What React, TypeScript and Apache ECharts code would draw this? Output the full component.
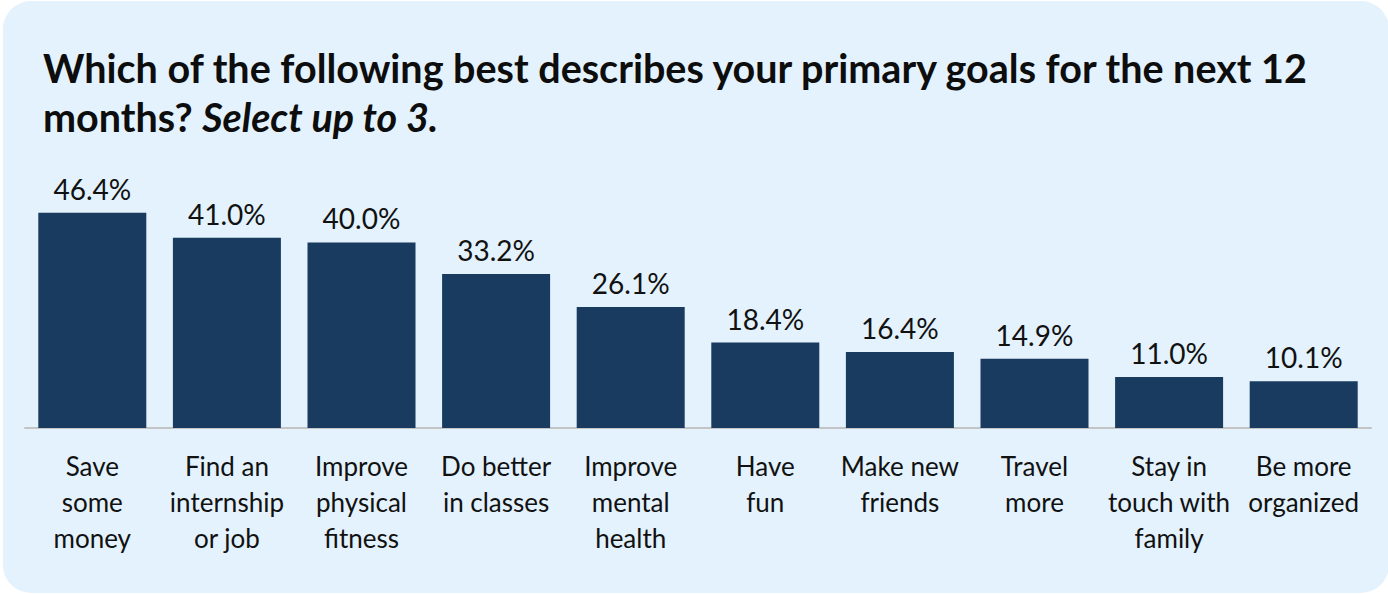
import React, { useEffect, useRef } from "react";
import * as echarts from "echarts";

const categories = [
  "Save\nsome\nmoney",
  "Find an\ninternship\nor job",
  "Improve\nphysical\nfitness",
  "Do better\nin classes",
  "Improve\nmental\nhealth",
  "Have\nfun",
  "Make new\nfriends",
  "Travel\nmore",
  "Stay in\ntouch with\nfamily",
  "Be more\norganized",
];
const values = [46.4, 41.0, 40.0, 33.2, 26.1, 18.4, 16.4, 14.9, 11.0, 10.1];
const titleLine1 = "Which of the following best describes your primary goals for the next 12";
const titleLine2a = "months? ";
const titleLine2b = "Select up to 3.";

const FONT = "Lato, 'Noto Sans', sans-serif";

export default function App() {
  const ref = useRef<HTMLDivElement>(null);
  useEffect(() => {
    if (!ref.current) return;
    const chart = echarts.init(ref.current, undefined, { renderer: "svg" });
    chart.setOption({
      animation: false,
      backgroundColor: "#ffffff",
      graphic: [
        {
          type: "rect",
          z: -10,
          silent: true,
          shape: { x: 3, y: 1, width: 1386, height: 592, r: 28 },
          style: { fill: "#e3f2fd" },
        },
      ],
      title: {
        left: 38,
        top: 38,
        text: `{b|${titleLine1}}\n{b|${titleLine2a}}{i|${titleLine2b}}`,
        textStyle: {
          rich: {
            b: { fontFamily: FONT, fontSize: 39.5, fontWeight: "bold", color: "#0d0d0d", lineHeight: 49 },
            i: { fontFamily: FONT, fontSize: 39.5, fontWeight: "bold", fontStyle: "italic", color: "#0d0d0d", lineHeight: 49 },
          },
        },
      },
      grid: { left: 25, right: 17, top: 196, bottom: 166, containLabel: false },
      xAxis: {
        type: "category",
        data: categories,
        axisLine: { show: true, lineStyle: { color: "#c4c4c4", width: 2 } },
        axisTick: { show: false },
        axisLabel: {
          interval: 0,
          fontFamily: FONT,
          fontSize: 26,
          lineHeight: 36,
          color: "#111111",
          margin: 20,
          align: "center",
        },
      },
      yAxis: { type: "value", min: 0, max: 50, show: false, splitLine: { show: false } },
      series: [
        {
          type: "bar",
          data: values,
          barWidth: 108,
          itemStyle: { color: "#193b60" },
          label: {
            show: true,
            position: "top",
            distance: 10,
            fontFamily: FONT,
            fontSize: 28,
            color: "#111111",
            formatter: (p: any) => p.value.toFixed(1) + "%",
          },
        },
      ],
    });
    return () => chart.dispose();
  }, []);
  return (
    <div style={{ position: "absolute", left: 0, top: 0, width: 1388, height: 594 }}>
      <div ref={ref} style={{ width: 1388, height: 594 }} />
    </div>
  );
}
